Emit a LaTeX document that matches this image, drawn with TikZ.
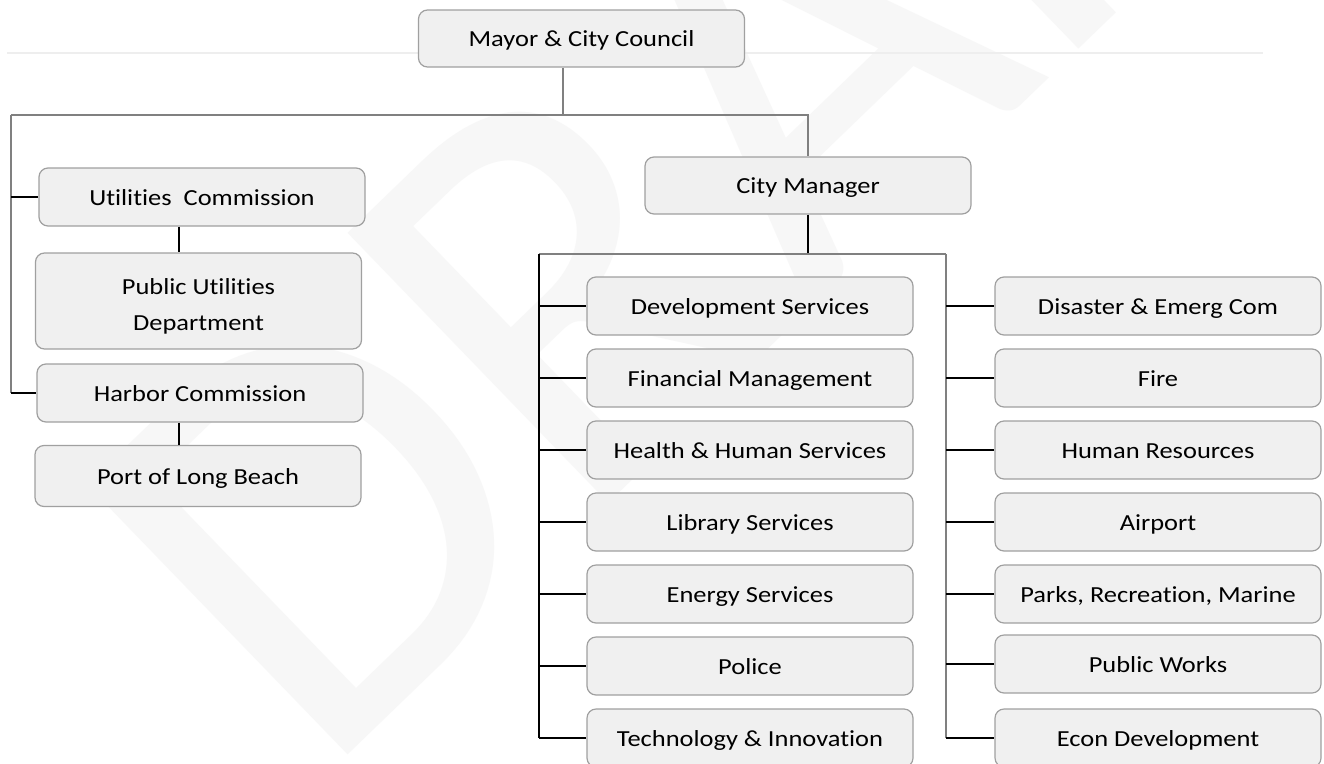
\documentclass[tikz,border=0pt]{standalone}
\usepackage{fontspec}
\setmainfont{Carlito}[Ligatures=NoCommon, FakeStretch=1.15]
\newfontfamily\wmfont{Carlito}
\usetikzlibrary{calc}
\definecolor{boxfill}{HTML}{F0F0F0}
\definecolor{boxline}{HTML}{A0A0A0}
\definecolor{conngray}{HTML}{808080}
\definecolor{wmark}{HTML}{F7F7F7}
\definecolor{rulecol}{HTML}{EEEEEE}
\newcommand{\orgfont}{\fontsize{23}{36}\selectfont}
\begin{document}
\begin{tikzpicture}[x=1pt,y=-1pt,
  orgbox/.style={draw=boxline, fill=boxfill, line width=1.2pt, rounded corners=9pt,
    minimum width=326pt, minimum height=58pt, inner sep=0pt, align=center, font=\orgfont,
    text height=16pt, text depth=0pt},
  topline/.style={draw=conngray, line width=2pt},
  branch/.style={draw=black, line width=1.6pt}]
\useasboundingbox (0,0) rectangle (1324,763);
\begin{scope}
\clip (0,0) rectangle (1324,763);
\fill[white] (0,0) rectangle (1324,763);
% watermark
\node[rotate=44, text=wmark, font=\wmfont\fontsize{585}{585}\selectfont, inner sep=0pt] (wm) at (754,102) {DRAFT};
% faint rule
\coordinate (ruleA) at (7,53);
\coordinate (ruleB) at (1263,53);
\draw[rulecol, line width=1.5pt] (ruleA) -- (ruleB);

% nodes
\node[orgbox, minimum height=57pt] (mayor) at (581.5,38.5) {Mayor \& City Council};
\node[orgbox] (util) at (202,197) {Utilities\ \ Commission};
\node[orgbox, minimum height=96pt, text height=58pt] (pud) at (198.5,301) {Public Utilities\\Department};
\node[orgbox] (harbor) at (200,393) {Harbor Commission};
\node[orgbox, minimum height=61pt] (port) at (198,476) {Port of Long Beach};
\node[orgbox, minimum height=57pt] (cm) at (808,185.5) {City Manager};

\node[orgbox] (l1) at (750,306) {Development Services};
\node[orgbox] (l2) at (750,378) {Financial Management};
\node[orgbox] (l3) at (750,450) {Health \& Human Services};
\node[orgbox] (l4) at (750,522) {Library Services};
\node[orgbox] (l5) at (750,594) {Energy Services};
\node[orgbox] (l6) at (750,666) {Police};
\node[orgbox] (l7) at (750,738) {Technology \& Innovation};

\node[orgbox] (r1) at (1158,306) {Disaster \& Emerg Com};
\node[orgbox] (r2) at (1158,378) {Fire};
\node[orgbox] (r3) at (1158,450) {Human Resources};
\node[orgbox] (r4) at (1158,522) {Airport};
\node[orgbox] (r5) at (1158,594) {Parks, Recreation, Marine};
\node[orgbox] (r6) at (1158,664) {Public Works};
\node[orgbox] (r7) at (1158,738) {Econ Development};

% connectors
\coordinate (barL) at (11,115);
\coordinate (barM) at (563,115);
\draw[topline] (barM |- mayor.south) -- (barM);
\draw[topline] (barL) -- (barL -| cm.north) -- (cm.north);
\draw[topline] (barL) -- (barL |- harbor.west);
\draw[branch] (barL |- util.west) -- (util.west);
\draw[branch] (barL |- harbor.west) -- (harbor.west);
\coordinate (lx) at (179,0);
\draw[branch] (lx |- util.south) -- (lx |- pud.north);
\draw[branch] (lx |- harbor.south) -- (lx |- port.north);

\coordinate (busL) at (539,254);
\coordinate (busR) at (946,254);
\draw[branch] (cm.south) -- (cm.south |- busL);
\draw[topline] (busL) -- (busR);
\draw[branch] (busL) -- (busL |- l7.west);
\draw[topline] (busR) -- (busR |- r7.west);
\foreach \i in {1,...,7}{
  \draw[branch] (busL |- l\i.west) -- (l\i.west);
  \draw[branch] (busR |- r\i.west) -- (r\i.west);
}
\end{scope}
\end{tikzpicture}
\end{document}
